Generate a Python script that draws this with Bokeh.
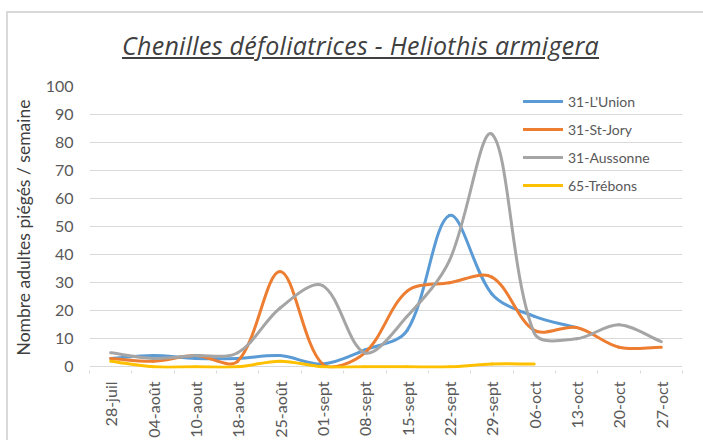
import math
from bokeh.plotting import figure
from bokeh.models import Range1d, LinearAxis, FixedTicker, Div, Legend, LegendItem, Grid
from bokeh.layouts import column
from bokeh.embed import file_html
from bokeh.resources import INLINE

categories = ["28-juil", "04-août", "10-aout", "18-aout", "25-août", "01-sept", "08-sept",
              "15-sept", "22-sept", "29-sept", "06-oct", "13-oct", "20-oct", "27-oct"]
union = [3, 4, 3, 3, 4, 1, 6, 13, 54, 26, 18, 14]
st_jory = [3, 2, 4, 2, 34, 1, 5, 27, 30, 32, 13, 14, 7, 7]
aussonne = [5, 3, 4, 5, 21, 29, 5, 18, 38, 83, 12, 10, 15, 9]
trebons = [2, 0, 0, 0, 2, 0, 0, 0, 0, 1, 1]
y_ticks = list(range(0, 101, 10))

series = [
    ("31-L'Union", union, "#5B9BD5"),
    ("31-St-Jory", st_jory, "#ED7D31"),
    ("31-Aussonne", aussonne, "#A5A5A5"),
    ("65-Trébons", trebons, "#FFC000"),
]

FONT = "Lato"
FIG_W, FIG_H = 695, 377
BL, BR, BT, BB = 81, 21, 23, 71
Y0, Y1 = -0.6, 100

p = figure(width=FIG_W, height=FIG_H, x_range=Range1d(-0.5, len(categories) - 0.5),
           y_range=Range1d(Y0, Y1), output_backend="svg", toolbar_location=None,
           x_axis_type=None, y_axis_type=None,
           min_border_left=BL, min_border_right=BR, min_border_top=BT, min_border_bottom=BB)
p.outline_line_color = None
p.border_fill_color = "white"

yaxis = LinearAxis(ticker=FixedTicker(ticks=y_ticks),
                   axis_line_color=None, major_tick_line_color=None, minor_tick_line_color=None,
                   major_tick_out=0, major_tick_in=0, major_label_standoff=16,
                   major_label_text_font=FONT, major_label_text_font_size="16px",
                   major_label_text_color="#595959",
                   axis_label="Nombre adultes piégés / semaine",
                   axis_label_text_font=FONT, axis_label_text_font_size="17.5px",
                   axis_label_text_font_style="normal", axis_label_text_color="#404040",
                   axis_label_standoff=9)
p.add_layout(yaxis, "left")
p.add_layout(Grid(dimension=1, ticker=yaxis.ticker, grid_line_color="#d9d9d9", grid_line_width=1))

n = len(categories)
xaxis = LinearAxis(ticker=FixedTicker(ticks=list(range(n)), minor_ticks=[i - 0.5 for i in range(n + 1)]),
                   major_label_overrides={i: c for i, c in enumerate(categories)},
                   major_label_orientation=math.pi / 2,
                   major_tick_line_color=None, major_tick_out=0, major_tick_in=0,
                   minor_tick_out=5, minor_tick_in=-2, minor_tick_line_color="#d9d9d9",
                   axis_line_color=None, major_label_standoff=8,
                   major_label_text_font=FONT, major_label_text_font_size="16px",
                   major_label_text_color="#595959")
p.add_layout(xaxis, "below")

# pixel size of one data unit (used only to weight the smoothing like Excel does)
SX = (FIG_W - BL - BR) / n
SY = (FIG_H - BT - BB) / (Y1 - Y0)


def smooth_segments(vals, f=1.0 / 3.0):
    m = len(vals)
    pts = [(float(i), float(v)) for i, v in enumerate(vals)]

    def dist(a, b):
        return math.hypot((a[0] - b[0]) * SX, (a[1] - b[1]) * SY)

    out_c, in_c = [], []
    for i in range(m):
        pp = pts[max(i - 1, 0)]
        pn = pts[min(i + 1, m - 1)]
        pc = pts[i]
        dp, dn = dist(pp, pc), dist(pc, pn)
        tot = dp + dn if dp + dn > 0 else 1.0
        tx, ty = pn[0] - pp[0], pn[1] - pp[1]
        wo = f * dn / tot
        wi = f * dp / tot
        out_c.append((pc[0] + tx * wo, pc[1] + ty * wo))
        in_c.append((pc[0] - tx * wi, pc[1] - ty * wi))
    d = dict(x0=[], y0=[], x1=[], y1=[], cx0=[], cy0=[], cx1=[], cy1=[])
    for i in range(m - 1):
        d["x0"].append(pts[i][0]); d["y0"].append(pts[i][1])
        d["x1"].append(pts[i + 1][0]); d["y1"].append(pts[i + 1][1])
        d["cx0"].append(out_c[i][0]); d["cy0"].append(out_c[i][1])
        d["cx1"].append(in_c[i + 1][0]); d["cy1"].append(in_c[i + 1][1])
    return d


items = []
for name, vals, color in series:
    seg = smooth_segments(vals)
    r = p.bezier(source=seg, x0="x0", y0="y0", x1="x1", y1="y1", cx0="cx0", cy0="cy0",
                 cx1="cx1", cy1="cy1", line_color=color, line_width=3, line_cap="round")
    items.append(LegendItem(label=name, renderers=[r]))

legend = Legend(items=items, location=(434, 173), glyph_width=40, glyph_height=20,
                label_height=20, label_standoff=5, spacing=8, padding=0, margin=0,
                border_line_alpha=0, background_fill_alpha=0,
                label_text_font=FONT, label_text_font_size="14px", label_text_color="#595959")
p.add_layout(legend)

title = Div(text=('<div style="width:695px;box-sizing:border-box;font-family:\'Open Sans\';'
                  'font-style:italic;font-size:25px;line-height:30px;color:#404040;'
                  'letter-spacing:0.3px;text-align:center;padding-top:17px;padding-left:10px;'
                  'white-space:nowrap;">'
                  '<u>Chenilles défoliatrices - Heliothis armigera</u></div>'),
            width=FIG_W, height=50, styles={"margin": "0"})

layout = column(title, p, styles={"margin-left": "6px", "margin-top": "11px",
                                  "border-left": "2px solid #d9d9d9",
                                  "border-top": "2px solid #d9d9d9"})

open("out.html", "w").write(file_html(layout, INLINE))
